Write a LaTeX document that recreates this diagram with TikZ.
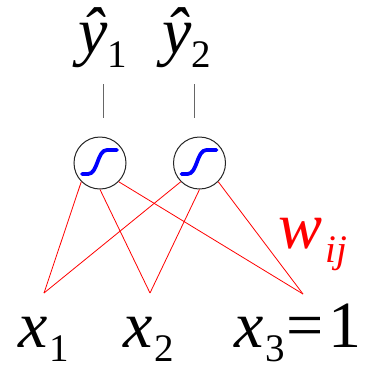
\documentclass[tikz,border=0pt]{standalone}
\usepackage{fontspec}
\setmainfont{Liberation Serif}
\newcommand{\subsc}[1]{\raisebox{-14pt}{\fontsize{39}{39}\selectfont #1}}
\tikzset{
  neuron/.style={circle, draw=black!85, line width=1pt, minimum size=52pt, inner sep=0pt},
  lbl/.style={anchor=base west, inner sep=0pt, font=\fontsize{66}{66}\selectfont},
  wire/.style={red, line width=0.8pt},
  outwire/.style={black!60, line width=1pt},
  sigm/.style={blue, line width=3.8pt, line cap=round},
}
\begin{document}
\begin{tikzpicture}[x=1pt,y=-1pt]
\useasboundingbox (0,0) rectangle (380,368);
% neurons
\node[neuron] (n1) at (100,163) {};
\node[neuron] (n2) at (199.5,163) {};
\foreach \n in {n1,n2}{
  \begin{scope}[shift={(\n.center)}]
  \draw[sigm] (-18,11) -- (-12,11) .. controls (-2,11) and (-3,-13) .. (7,-13) -- (17,-13);
  \end{scope}
}
% input points
\coordinate (i1) at (44,293);
\coordinate (i2) at (150,293);
\coordinate (i3) at (303,294);
\foreach \n in {n1,n2}{
  \draw[wire] (\n.225) -- (i1);
  \draw[wire] (\n.270) -- (i2);
  \draw[wire] (\n.315) -- (i3);
}
% output connectors
\coordinate (t1a) at (103,84);
\coordinate (t1b) at (103,118);
\coordinate (t2a) at (194,84);
\coordinate (t2b) at (194,118);
\draw[outwire] (t1a) -- (t1b);
\draw[outwire] (t2a) -- (t2b);
% labels
\node[lbl] (y1) at (78,53) {\textit{ŷ}\subsc{1}};
\node[lbl] (y2) at (162,53) {\textit{ŷ}\subsc{2}};
\node[lbl] (x1) at (18,347) {\textit{x}\kern2pt\subsc{1}};
\node[lbl] (x2) at (123,347) {\textit{x}\kern2pt\subsc{2}};
\node[lbl] (x3) at (234,347) {\textit{x}\kern2pt\subsc{3}\kern2pt=\kern4pt1};
\node[lbl, red] (w) at (278,248) {\textit{w}\kern3pt\subsc{\textit{ij}}};
\end{tikzpicture}
\end{document}
